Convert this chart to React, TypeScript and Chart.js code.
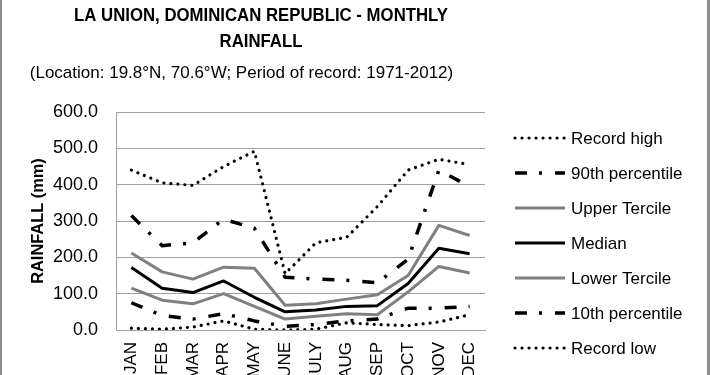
import React, { useEffect, useRef } from "react";
import { Chart, registerables } from "chart.js";

Chart.register(...registerables);

const months = ["JAN", "FEB", "MAR", "APR", "MAY", "JUNE", "JULY", "AUG", "SEP", "OCT", "NOV", "DEC"];
const recordHigh = [440, 405, 398, 450, 492, 155, 240, 255, 340, 440, 470, 455];
const pct90 = [315, 232, 240, 305, 280, 145, 140, 137, 130, 195, 440, 395];
const upperTercile = [212, 160, 140, 173, 170, 68, 72, 85, 97, 150, 288, 260];
const median = [172, 115, 103, 135, 90, 50, 55, 65, 67, 128, 225, 210];
const lowerTercile = [115, 82, 72, 100, 65, 30, 38, 45, 42, 105, 175, 157];
const pct10 = [75, 40, 30, 45, 25, 10, 15, 25, 30, 60, 60, 65];
const recordLow = [5, 2, 8, 25, 2, 0, 2, 20, 15, 12, 22, 42];
const yTicks = [0, 100, 200, 300, 400, 500, 600];

const titleLines = ["LA UNION, DOMINICAN REPUBLIC - MONTHLY", "RAINFALL"];
const subtitleText = "(Location: 19.8°N, 70.6°W; Period of record: 1971-2012)";
const yTitle = "RAINFALL (mm)";

const FONT = "'Liberation Sans', Arial, sans-serif";

const dotted = { borderDash: [0.01, 7], borderCapStyle: "round" as const, borderWidth: 3.2 };
const dashDot = { borderDash: [12, 12, 3, 13], borderCapStyle: "butt" as const, borderWidth: 3.5 };

const decorPlugin = {
  id: "decor",
  afterDraw(chart: any) {
    const ctx = chart.ctx as CanvasRenderingContext2D;
    ctx.save();
    // frame
    ctx.fillStyle = "#8c8c8c";
    ctx.fillRect(0, 0, 2, 375);
    ctx.fillRect(707, 0, 3, 375);
    // titles (horizontally condensed to match the narrow original face)
    ctx.fillStyle = "#000";
    ctx.textAlign = "center";
    ctx.textBaseline = "alphabetic";
    ctx.font = `bold 18.5px ${FONT}`;
    const w = ctx.measureText(titleLines[0]).width;
    const sx = Math.min(1, 374 / w);
    ctx.save();
    ctx.translate(261, 0);
    ctx.scale(sx, 1);
    ctx.fillText(titleLines[0], 0, 20.5);
    ctx.fillText(titleLines[1], 0, 47);
    ctx.restore();
    ctx.font = `17px ${FONT}`;
    ctx.fillText(subtitleText, 241.5, 78);
    // y title
    ctx.save();
    ctx.translate(38.5, 221);
    ctx.rotate(-Math.PI / 2);
    ctx.font = `bold 16.4px ${FONT}`;
    ctx.textBaseline = "middle";
    ctx.fillText(yTitle, 0, 0);
    ctx.restore();
    // legend
    const ds = chart.data.datasets;
    ds.forEach((d: any, i: number) => {
      const y = 138 + i * 35;
      ctx.save();
      ctx.strokeStyle = d.borderColor;
      ctx.lineWidth = d.borderWidth;
      ctx.lineCap = d.borderCapStyle || "butt";
      ctx.setLineDash(d.borderDash || []);
      ctx.beginPath();
      ctx.moveTo(515, y);
      ctx.lineTo(565, y);
      ctx.stroke();
      ctx.restore();
      ctx.fillStyle = "#000";
      ctx.textAlign = "left";
      ctx.textBaseline = "middle";
      ctx.font = `17px ${FONT}`;
      ctx.fillText(d.label, 571, y + 1);
    });
    ctx.restore();
  },
};

export default function App() {
  const ref = useRef<HTMLCanvasElement | null>(null);
  useEffect(() => {
    if (!ref.current) return;
    const chart = new Chart(ref.current, {
      type: "line",
      data: {
        labels: months,
        datasets: [
          { label: "Record high", data: recordHigh, borderColor: "#000", ...dotted },
          { label: "90th percentile", data: pct90, borderColor: "#000", ...dashDot },
          { label: "Upper Tercile", data: upperTercile, borderColor: "#808080", borderWidth: 3 },
          { label: "Median", data: median, borderColor: "#000", borderWidth: 3 },
          { label: "Lower Tercile", data: lowerTercile, borderColor: "#808080", borderWidth: 3 },
          { label: "10th percentile", data: pct10, borderColor: "#000", ...dashDot },
          { label: "Record low", data: recordLow, borderColor: "#000", ...dotted },
        ] as any,
      },
      options: {
        animation: false,
        responsive: false,
        devicePixelRatio: 1,
        layout: { padding: { top: 112, right: 225, left: 0, bottom: 0 } },
        elements: { point: { radius: 0 }, line: { tension: 0, borderJoinStyle: "round" } },
        plugins: { legend: { display: false }, title: { display: false }, tooltip: { enabled: false } },
        scales: {
          x: {
            offset: true,
            grid: { display: false, drawTicks: false },
            border: { display: true, color: "#a0a0a0", width: 1 },
            ticks: {
              color: "#000",
              font: { family: FONT, size: 17 },
              minRotation: 90,
              maxRotation: 90,
              padding: 12,
              autoSkip: false,
            },
            afterFit: (s: any) => {
              s.height = 45;
            },
          },
          y: {
            min: 0,
            max: 600,
            afterBuildTicks: (s: any) => {
              s.ticks = yTicks.map((v) => ({ value: v }));
            },
            grid: { color: "#a0a0a0", lineWidth: 1, drawTicks: false },
            border: { display: true, color: "#a0a0a0", width: 1 },
            ticks: {
              color: "#000",
              font: { family: FONT, size: 18 },
              padding: 18,
              callback: (v: any) => Number(v).toFixed(1),
            },
            afterFit: (s: any) => {
              s.width = 116;
            },
          },
        },
      },
      plugins: [decorPlugin],
    });
    return () => chart.destroy();
  }, []);
  return (
    <div style={{ position: "absolute", left: 0, top: 0, width: 710, height: 375, background: "#fff" }}>
      <canvas ref={ref} width={710} height={375} style={{ display: "block" }} />
    </div>
  );
}
